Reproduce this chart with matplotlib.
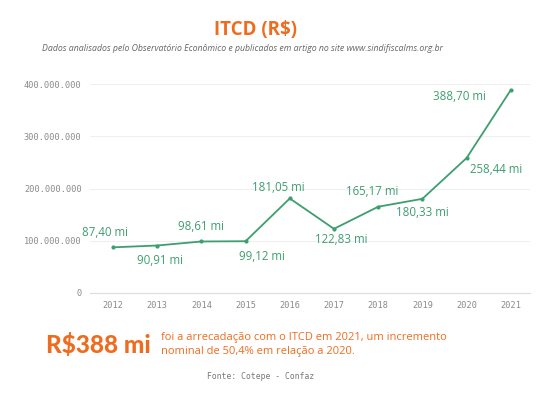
import matplotlib.pyplot as plt
from matplotlib.ticker import FuncFormatter

years = [2012, 2013, 2014, 2015, 2016, 2017, 2018, 2019, 2020, 2021]
values_mi = [87.40, 90.91, 98.61, 99.12, 181.05, 122.83, 165.17, 180.33, 258.44, 388.70]
labels = ['87,40 mi', '90,91 mi', '98,61 mi', '99,12 mi', '181,05 mi',
          '122,83 mi', '165,17 mi', '180,33 mi', '258,44 mi', '388,70 mi']
# label offsets in points (dx, dy) relative to each point
offsets = [(-6, 11), (2, -11), (0, 11), (12, -11), (-8, 8),
           (5, -8), (-4, 11), (0, -10), (21, -8), (-37, -5)]
y_ticks = [0, 100e6, 200e6, 300e6, 400e6]

green = '#3d9e70'
orange = '#ef6c1f'
grey = '#8a8a8a'

plt.rcParams['font.family'] = ['Open Sans', 'DejaVu Sans']

fig = plt.figure(figsize=(5.49, 3.93), dpi=100)
ax = fig.add_axes([0.164, 0.2545, 0.801, 0.5315])

vals = [v * 1e6 for v in values_mi]
ax.plot(years, vals, color=green, lw=1.3, marker='o', ms=2, zorder=3)

for x, y, lab, (dx, dy) in zip(years, vals, labels, offsets):
    ax.annotate(lab, (x, y), xytext=(dx, dy), textcoords='offset points',
                ha='center', va='center', fontsize=8.3, color=green)

ax.set_xlim(2011.48, 2021.43)
ax.set_ylim(0, 400e6)
ax.set_xticks(years)
ax.set_yticks(y_ticks)
ax.yaxis.set_major_formatter(FuncFormatter(lambda v, p: f'{int(v):,}'.replace(',', '.')))
for lab in ax.get_xticklabels() + ax.get_yticklabels():
    lab.set_family('DejaVu Sans Mono')
    lab.set_fontsize(6.2)
    lab.set_color(grey)
ax.tick_params(length=0, pad=6)
ax.grid(axis='y', color='#efefef', lw=0.8)
for s in ['top', 'right', 'left']:
    ax.spines[s].set_visible(False)
ax.spines['bottom'].set_color('#dddddd')
ax.set_axisbelow(True)

fig.text(0.466, 0.923, 'ITCD (R$)', ha='center', va='center', fontsize=13.5,
         fontweight='bold', color=orange)
fig.text(0.441, 0.877, 'Dados analisados pelo Observatório Econômico e publicados em artigo no site www.sindifiscalms.org.br',
         ha='center', va='center', fontsize=6.3, style='italic', color='#666666')

fig.text(0.083, 0.122, 'R$388 mi', ha='left', va='center', fontsize=17.5,
         fontweight='black', color=orange, family='Lato')
fig.text(0.293, 0.123, 'foi a arrecadação com o ITCD em 2021, um incremento\nnominal de 50,4% em relação a 2020.',
         ha='left', va='center', fontsize=8.0, color=orange, linespacing=1.3)
fig.text(0.474, 0.041, 'Fonte: Cotepe - Confaz', ha='center', va='center',
         fontsize=5.8, family='DejaVu Sans Mono', color='#777777')

fig.savefig('out.png', dpi=100)
